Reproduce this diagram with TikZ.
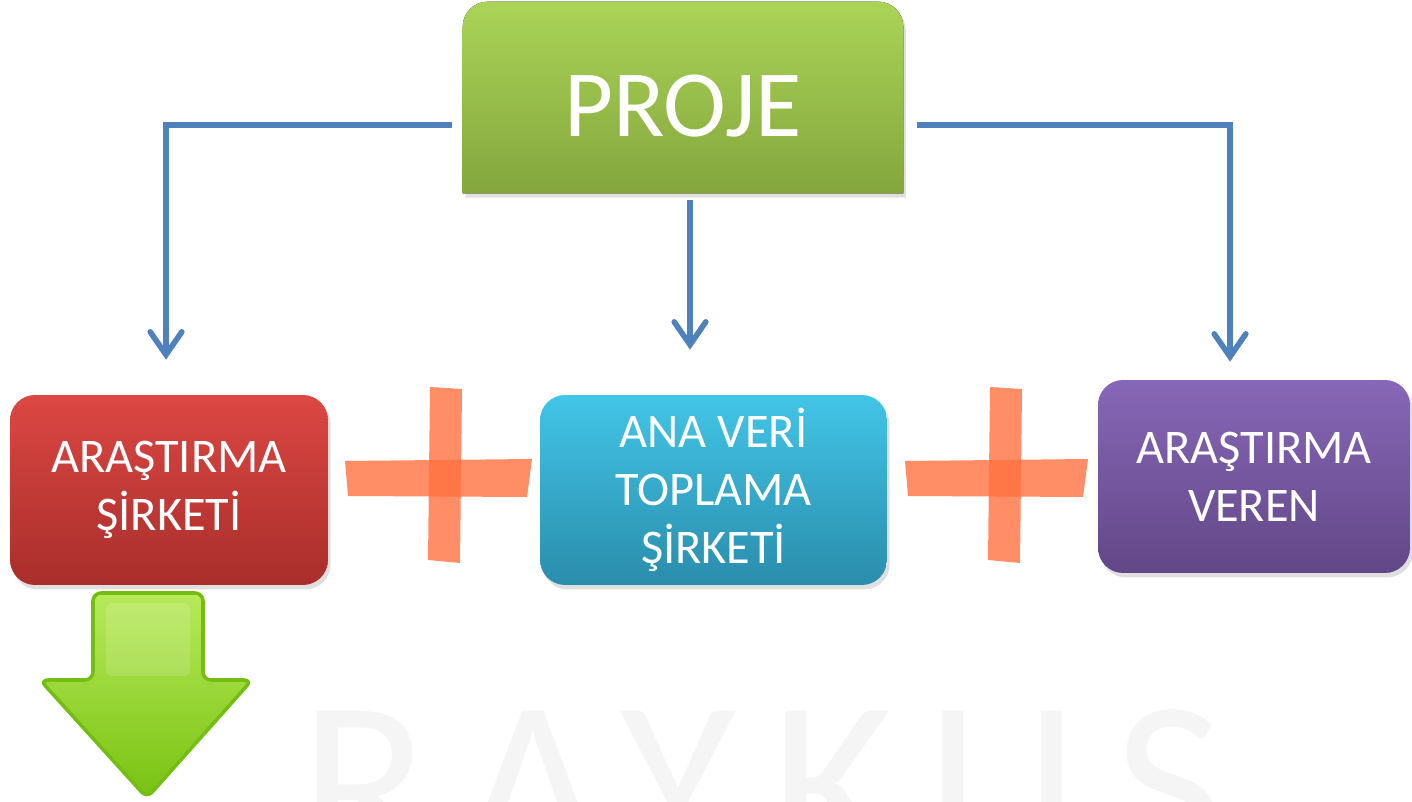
\documentclass[tikz,border=0pt]{standalone}
\usepackage{fontspec}
\setmainfont{Carlito}
\newfontfamily\wmfont[LetterSpace=15]{Carlito}
\usetikzlibrary{arrows.meta,shadows,calc}
\definecolor{blueline}{HTML}{4F81BD}
\definecolor{projetop}{HTML}{AAD457}
\definecolor{projebot}{HTML}{84A63D}
\definecolor{redtop}{HTML}{DC4743}
\definecolor{redbot}{HTML}{A92E2B}
\definecolor{cyantop}{HTML}{42C5E7}
\definecolor{cyanbot}{HTML}{2A8DAC}
\definecolor{purptop}{HTML}{8767B7}
\definecolor{purpbot}{HTML}{624787}
\definecolor{tape}{HTML}{FF7040}
\definecolor{arrowtop}{HTML}{B8EA5A}
\definecolor{arrowbot}{HTML}{78C212}
\definecolor{arrowedge}{HTML}{74BE14}
\begin{document}
\begin{tikzpicture}[x=0.02cm,y=0.02cm,
  box/.style={rectangle, rounded corners=0.5cm, minimum height=3.8cm, text=white,
    align=center, font=\fontsize{27.5}{33}\selectfont, inner sep=0pt,
    drop shadow={opacity=0.25, shadow xshift=1.5pt, shadow yshift=-2.5pt}},
  conn/.style={draw=blueline, line width=3.2pt, line join=miter,
    -{Straight Barb[length=13pt,width=18pt,line cap=round]}},
  tapestrip/.style={fill=tape, fill opacity=0.8}
]
\useasboundingbox (0,0) rectangle (1412,801);
% faint watermark
\begin{scope}
\clip (0,0) rectangle (1412,801);
\node[anchor=base west, inner sep=0pt, text=black!4, font=\wmfont\fontsize{135}{135}\selectfont] (wm) at (300,-62) {RAYKUS};
\end{scope}

% top node
\node[minimum width=8.8cm, minimum height=3.82cm, inner sep=0pt] (proje) at (683,703.5) {};
\fill[top color=projetop, bottom color=projebot,
  drop shadow={opacity=0.25, shadow xshift=1.5pt, shadow yshift=-2.5pt}]
  (proje.south west) -- ([yshift=-0.5cm]proje.north west)
  arc[start angle=180,end angle=90,radius=0.5cm]
  -- ([xshift=-0.5cm]proje.north east)
  arc[start angle=90,end angle=0,radius=0.5cm]
  -- (proje.south east) -- cycle;
\node[text=white, font=\fontsize{54}{54}\selectfont, anchor=base] (projetext) at (683,664) {PROJE};

% bottom boxes
\node[box, minimum width=6.36cm, top color=redtop, bottom color=redbot] (red) at (169,311) {ARAŞTIRMA\\ŞİRKETİ};
\node[box, minimum width=6.94cm, top color=cyantop, bottom color=cyanbot] (cyan) at (713.5,311) {ANA VERİ\\TOPLAMA\\ŞİRKETİ};
\node[box, minimum width=6.24cm, minimum height=3.86cm, top color=purptop, bottom color=purpbot] (purple) at (1254,324.5) {ARAŞTIRMA\\VEREN};

% connectors
\coordinate (cdrop) at ([xshift=0.14cm]proje.south);
\draw[conn, shorten >=0.7cm] ([xshift=-0.22cm,yshift=-0.55cm]proje.west) -| ([xshift=-0.06cm]red.north);
\draw[conn, shorten >=0.9cm] ([yshift=-0.14cm]cdrop) -- (cdrop |- cyan.north);
\draw[conn, shorten >=0.36cm] ([xshift=0.28cm,yshift=-0.55cm]proje.east) -| ([xshift=-0.48cm]purple.north);

% tape crosses
\fill[tapestrip] (430,414) -- (462,412) -- (460,238) -- (428,241) -- cycle;
\fill[tapestrip] (345,340) -- (532,342) -- (527,304) -- (348,305) -- cycle;
\fill[tapestrip] (990,414) -- (1022,412) -- (1020,238) -- (988,241) -- cycle;
\fill[tapestrip] (905,340) -- (1088,342) -- (1083,304) -- (908,305) -- cycle;

% green down arrow
\draw[draw=arrowedge, line width=2pt, top color=arrowtop, bottom color=arrowbot, rounded corners=0.16cm]
  (93,121) -- (93,208) -- (203,208) -- (203,121) -- (252,121) -- (147,3) -- (40,121) -- cycle;
\fill[white, opacity=0.15, rounded corners=0.12cm] (106,125) -- (106,198) -- (190,198) -- (190,125) -- cycle;
\end{tikzpicture}
\end{document}
